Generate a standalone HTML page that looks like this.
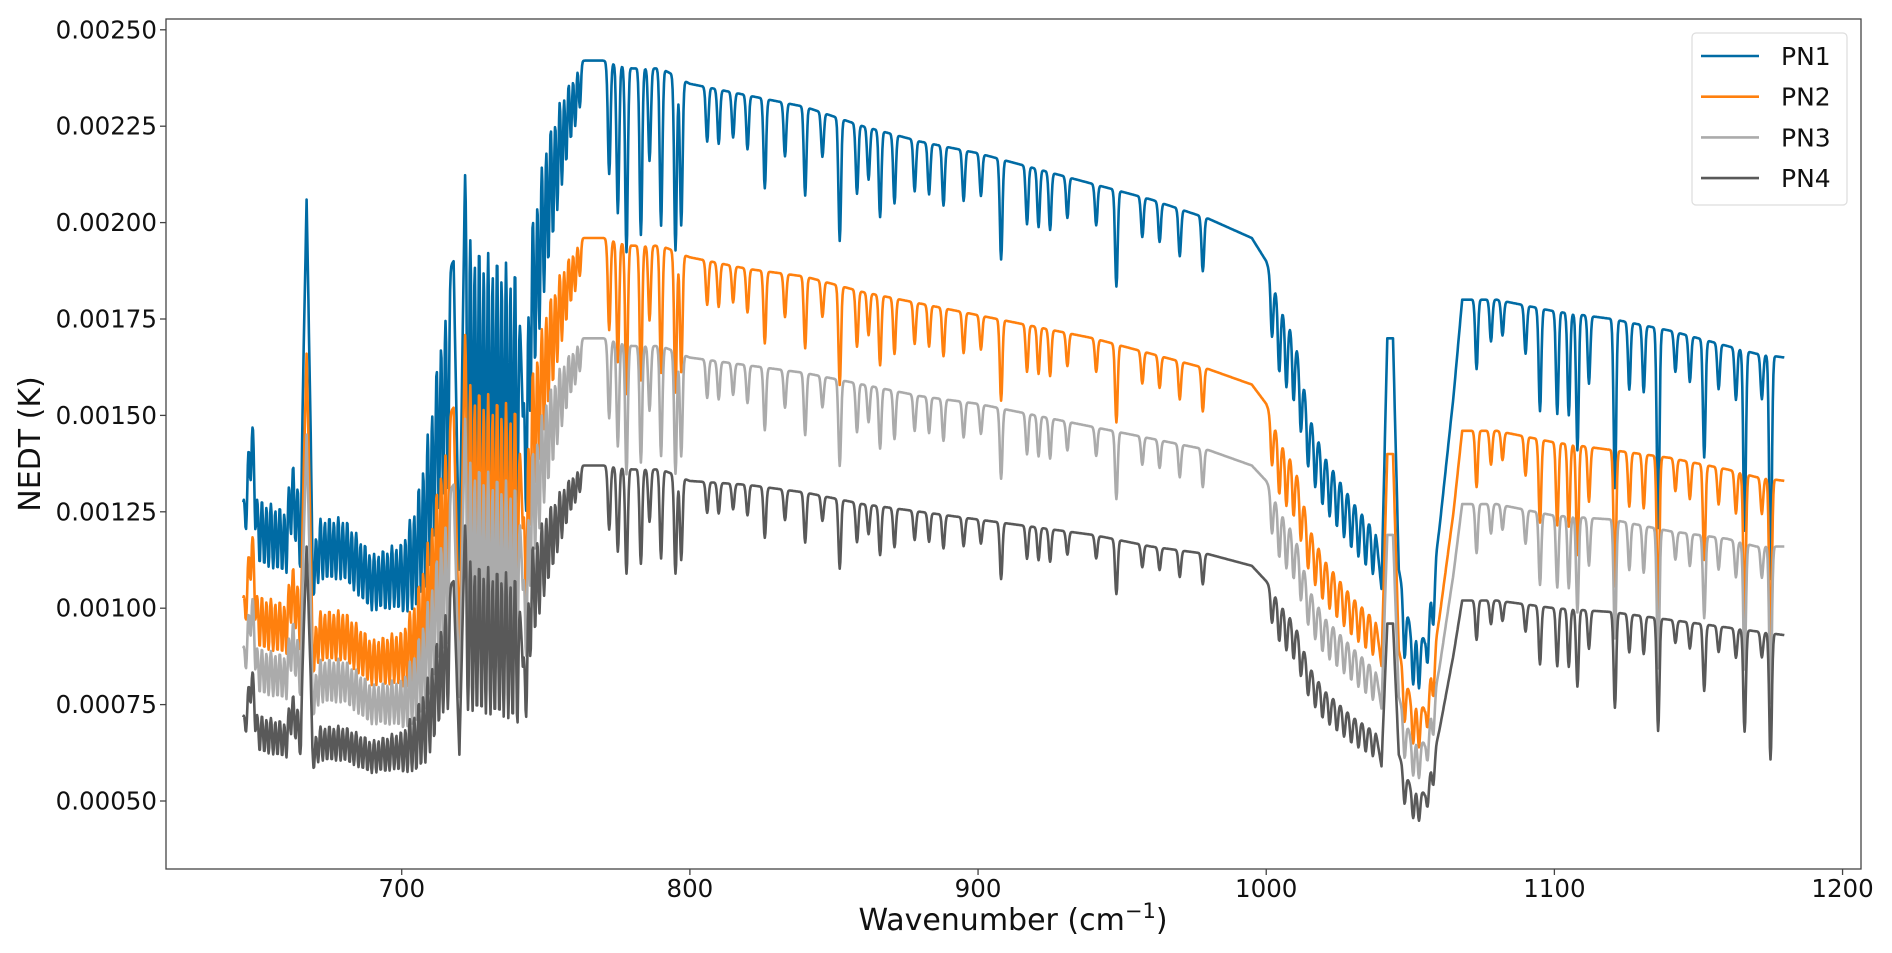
<!DOCTYPE html>
<html><head><meta charset="utf-8"><style>
html,body{margin:0;padding:0;background:#fff;}
svg{display:block;font-family:"DejaVu Sans","Liberation Sans",sans-serif;}
</style></head><body>
<svg id="chart" width="1892" height="953">
<g id="plot"></g>
<g id="axes"></g>
</svg>
<script>
// envelope sample wavenumbers (cm^-1)
const wn = [645,648,650,660,662,665,667,669,672,680,690,700,705,710,714,718,720,722,726,730,735,740,742,745,750,755,760,770,780,790,800,820,840,860,880,900,920,940,960,980,995,1000,1005,1010,1015,1020,1030,1038,1040,1042,1044,1046,1050,1055,1060,1065,1068,1080,1100,1120,1140,1160,1170,1180];
// envelope values in units of 1e-5 K
const pn1 = [128,155,133,130,145,130,206,120,128,128,118,122,135,160,185,190,110,215,212,210,208,205,150,210,230,238,242,242,240,240,236,233,230,225,221,218,214,210,206,201,196,190,178,170,150,140,128,120,105,170,170,110,95,92,120,155,180,180,177,175,172,168,166,165];
const pn2 = [103,125,107,105,117,105,166,97,103,103,95,98,109,129,148,152,89,173,172,170,168,166,121,169,185,192,196,196,194,194,191,188,186,182,179,176,173,170,166,162,158,153,143,137,121,113,103,97,85,140,140,89,77,74,97,125,146,146,143,141,139,136,134,133];
const pn3 = [90,108,93,91,102,91,145,84,90,90,83,85,95,112,128,132,77,151,150,148,146,144,105,147,161,167,170,170,168,168,165,163,161,158,155,153,150,147,144,141,137,133,125,119,105,98,90,84,74,119,119,77,67,65,84,109,127,127,124,123,120,118,116,116];
const pn4 = [72,88,75,73,82,73,116,68,72,72,68,71,78,90,104,107,62,123,122,121,120,118,85,122,130,134,137,137,136,136,133,132,130,127,125,123,121,119,116,114,111,107,101,96,85,79,72,68,59,96,96,62,54,52,68,88,102,102,100,99,97,95,94,93];
// absorption line centers (cm^-1) and fractional depths
const denseLines = [646.0,647.6,649.2,650.7,652.3,653.8,655.4,656.9,658.5,660.0,661.6,663.1,664.7,669.5,671.0,672.6,674.1,675.7,677.2,678.8,680.3,681.9,683.4,685.0,686.5,688.1,689.6,691.2,692.7,694.3,695.8,697.4,698.9,700.5,702.0,703.6,705.1,706.7,708.2,709.8,711.3,712.9,714.4,716.0,723.0,724.6,726.1,727.7,729.2,730.8,732.3,733.9,735.4,737.0,738.5,740.1,743.2,744.7,746.3,747.8,749.4,750.9,752.5,754.0,755.6,757.1,758.7,760.2,761.8];
const denseDepths = [0.12,0.12,0.15,0.16,0.16,0.16,0.16,0.16,0.16,0.16,0.16,0.16,0.16,0.15,0.15,0.16,0.16,0.16,0.16,0.16,0.16,0.16,0.16,0.16,0.16,0.16,0.16,0.16,0.16,0.17,0.17,0.17,0.18,0.2,0.22,0.24,0.26,0.28,0.3,0.3,0.3,0.3,0.3,0.3,0.4,0.4,0.4,0.4,0.4,0.4,0.4,0.4,0.4,0.4,0.4,0.4,0.28,0.26,0.24,0.22,0.2,0.18,0.16,0.14,0.12,0.1,0.08,0.07,0.05];
const sparseLines = [772,775,778,783,786,790,795,797,806,810,815,820,826,833,840,846,852,858,862,866,871,878,883,888,895,901,908,917,921,925,931,941,948,957,963,970,978,1002,1004.5,1007,1009.5,1012,1014.5,1017,1019.5,1022,1024.5,1027,1029.5,1032,1034.5,1037,1048,1051,1053,1056,1058,1073,1078,1082,1090,1095,1101,1105,1108,1112,1121,1126,1131,1136,1142,1147,1152,1157,1163,1166,1172,1175];
const sparseDepths = [0.12,0.16,0.2,0.18,0.1,0.17,0.19,0.16,0.06,0.06,0.05,0.06,0.1,0.06,0.1,0.05,0.14,0.08,0.06,0.1,0.08,0.06,0.06,0.07,0.06,0.05,0.12,0.07,0.07,0.07,0.05,0.05,0.12,0.05,0.05,0.06,0.07,0.08,0.1,0.1,0.1,0.1,0.1,0.1,0.1,0.1,0.1,0.1,0.1,0.1,0.1,0.1,0.15,0.15,0.15,0.12,0.12,0.1,0.06,0.05,0.07,0.15,0.15,0.15,0.2,0.1,0.25,0.1,0.1,0.3,0.06,0.07,0.18,0.07,0.08,0.28,0.07,0.35];
const seriesNames = ["PN1","PN2","PN3","PN4"];
const yTicks = [0.0005,0.00075,0.001,0.00125,0.0015,0.00175,0.002,0.00225,0.0025];
const yTickLabels = ["0.00050","0.00075","0.00100","0.00125","0.00150","0.00175","0.00200","0.00225","0.00250"];
const xTicks = [700,800,900,1000,1100,1200];

const colors = ["#006BA4","#FF800E","#ABABAB","#595959"];
const L=166,R=1861,T=19,B=869;
const xMin=618.2,xMax=1206.4;
function xs(w){return L+(w-xMin)/(xMax-xMin)*(R-L);}
function ys(v){return 801-(v-0.0005)/0.00025*96.4;}
const NS="http://www.w3.org/2000/svg";
function mk(t,a,p){const e=document.createElementNS(NS,t);for(const k in a)e.setAttribute(k,a[k]);p.appendChild(e);return e;}
function env(arr,w){
  if(w<=wn[0])return arr[0];
  for(let i=1;i<wn.length;i++){if(w<=wn[i]){const f=(w-wn[i-1])/(wn[i]-wn[i-1]);return arr[i-1]+(arr[i]-arr[i-1])*f;}}
  return arr[arr.length-1];
}
function absorb(w){
  let f=1;
  for(let i=0;i<denseLines.length;i++){const d=(w-denseLines[i])/0.38;f*=1-denseDepths[i]*Math.exp(-d*d/2);}
  for(let i=0;i<sparseLines.length;i++){const d=(w-sparseLines[i])/0.45;f*=1-sparseDepths[i]*Math.exp(-d*d/2);}
  return f;
}
const plot=document.getElementById('plot');
const axes=document.getElementById('axes');
const all=[pn1,pn2,pn3,pn4];
all.forEach((arr,si)=>{
  let pts=[];
  for(let w=645;w<=1180;w+=0.2){pts.push(xs(w).toFixed(1)+","+ys(env(arr,w)*1e-5*absorb(w)).toFixed(1));}
  const pl=mk('polyline',{points:pts.join(" "),fill:"none",stroke:colors[si],"stroke-width":2.6,"stroke-linejoin":"round"},plot);
  
  
});
const fr=mk('rect',{x:L,y:T,width:R-L,height:B-T,fill:"none",stroke:"#444","stroke-width":1.3},axes);


yTicks.forEach((v,i)=>{
  const y=ys(v);
  const tk=mk('line',{x1:L-6,x2:L,y1:y,y2:y,stroke:"#444","stroke-width":1.3},axes);
  
  
  const t=mk('text',{x:157,y:y+8.5,"text-anchor":"end","font-size":24.5,fill:"#111"},axes);
  t.textContent=yTickLabels[i];
  
  
});
xTicks.forEach(v=>{
  const x=xs(v);
  const tk=mk('line',{x1:x,x2:x,y1:B,y2:B+6,stroke:"#444","stroke-width":1.3},axes);
  
  
  const t=mk('text',{x:x,y:897,"text-anchor":"middle","font-size":24.5,fill:"#111"},axes);
  t.textContent=String(v);
  
  
});
const lg=mk('g',{},axes);


mk('rect',{x:1692,y:33,width:155,height:172,rx:4,fill:"#fff",stroke:"#ddd","stroke-width":1.2},lg);
seriesNames.forEach((n,i)=>{
  const y=56+i*40.7;
  const ln=mk('line',{x1:1701,x2:1759,y1:y,y2:y,stroke:colors[i],"stroke-width":2.6},lg);
  
  
  const t=mk('text',{x:1781,y:y+9,"font-size":25,fill:"#111"},lg);
  t.textContent=n;
  
  
});
</script>
<svg style="position:absolute;left:0;top:0" width="1892" height="953">
<text x="40" y="444" transform="rotate(-90 40 444)" text-anchor="middle" font-size="30" fill="#111" font-family="DejaVu Sans, Liberation Sans, sans-serif">NEDT (K)</text>
<text x="1013" y="930" text-anchor="middle" font-size="30" fill="#111" font-family="DejaVu Sans, Liberation Sans, sans-serif">Wavenumber (cm<tspan dy="-12" font-size="21">−1</tspan><tspan dy="12">)</tspan></text>
</svg>
</body></html>
